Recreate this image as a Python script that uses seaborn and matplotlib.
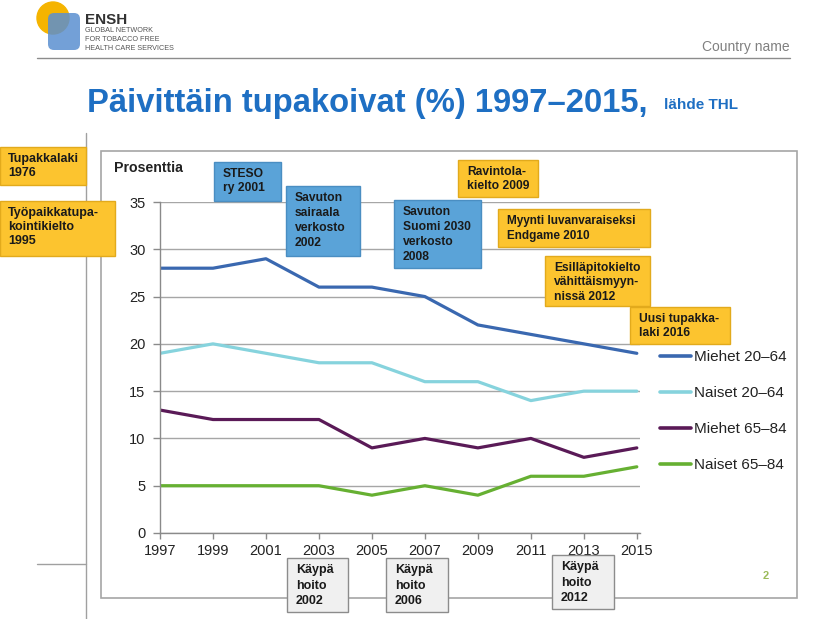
import numpy as np
import pandas as pd
import seaborn as sns
import matplotlib.pyplot as plt
from matplotlib.patches import Rectangle, Circle, FancyBboxPatch

# ---------------- data ----------------
years = [1997, 1999, 2001, 2003, 2005, 2007, 2009, 2011, 2013, 2015]
miehet_20_64 = [28, 28, 29, 26, 26, 25, 22, 21, 20, 19]
naiset_20_64 = [19, 20, 19, 18, 18, 16, 16, 14, 15, 15]
miehet_65_84 = [13, 12, 12, 12, 9, 10, 9, 10, 8, 9]
naiset_65_84 = [5, 5, 5, 5, 4, 5, 4, 6, 6, 7]
series_names = ["Miehet 20–64", "Naiset 20–64", "Miehet 65–84", "Naiset 65–84"]
series_colors = ["#3A68B0", "#86D3DD", "#5A1A57", "#66B032"]
y_ticks = [0, 5, 10, 15, 20, 25, 30, 35]

title_text = "Päivittäin tupakoivat (%) 1997–2015,"
source_text = "lähde THL"
y_unit = "Prosenttia"

W, H = 814, 619

sns.set_theme(style="white")
plt.rcParams["font.family"] = ["Liberation Sans", "DejaVu Sans"]

fig = plt.figure(figsize=(W / 100, H / 100), dpi=100)
fig.patch.set_facecolor("white")

# ---------------- main chart ----------------
ax = fig.add_axes([160 / W, 1 - 533 / H, 480 / W, 331 / H], zorder=1)
ax.patch.set_alpha(0)

df = pd.DataFrame({
    "Vuosi": years * 4,
    "Prosentti": miehet_20_64 + naiset_20_64 + miehet_65_84 + naiset_65_84,
    "Ryhmä": sum([[n] * len(years) for n in series_names], []),
})
palette = dict(zip(series_names, series_colors))
sns.lineplot(data=df, x="Vuosi", y="Prosentti", hue="Ryhmä", palette=palette,
             linewidth=2.3, ax=ax, legend=True)

ax.set_xlim(1997, 2015.12)
ax.set_ylim(0, 35)
ax.set_xticks(years)
ax.set_yticks(y_ticks)
ax.set_xlabel("")
ax.set_ylabel("")
ax.grid(axis="y", color="#A6A6A6", lw=1)
ax.grid(axis="x", visible=False)
ax.set_axisbelow(True)
for s in ["top", "right"]:
    ax.spines[s].set_visible(False)
for s in ["left", "bottom"]:
    ax.spines[s].set_color("#8A8A8A")
    ax.spines[s].set_linewidth(1)
ax.tick_params(axis="y", length=5, width=1, color="#8A8A8A", labelsize=10.5,
               labelcolor="#222222", pad=5.5, left=True)
ax.tick_params(axis="x", length=4, width=1, color="#8A8A8A", labelsize=10.5,
               labelcolor="#222222", pad=4, bottom=True)

leg = ax.get_legend()
handles = leg.legend_handles
labels = [t.get_text() for t in leg.get_texts()]
for h in handles:
    h.set_linewidth(2.6)
ax.legend(handles, labels, loc="upper left", bbox_to_anchor=(660 / W, 1 - 350 / H),
          bbox_transform=fig.transFigure, frameon=False, fontsize=11,
          handlelength=2.0, handletextpad=0.2, labelspacing=1.45,
          borderpad=0, borderaxespad=0, labelcolor="#222222")

# ---------------- overlay (slide decorations) ----------------
ov = fig.add_axes([0, 0, 1, 1], zorder=5)
ov.set_xlim(0, W)
ov.set_ylim(H, 0)
ov.axis("off")

# frames / rules
ov.add_patch(Rectangle((101, 151), 696, 447, fill=False, ec="#A6A6A6", lw=1.2, zorder=1))
ov.plot([86, 86], [133, 619], color="#A0A0A0", lw=1, zorder=1)
ov.plot([37, 86], [564, 564], color="#A0A0A0", lw=1, zorder=1)
ov.plot([37, 790], [58, 58], color="#8C8C8C", lw=1, zorder=1)

# logo
ov.add_patch(Circle((53, 18), 16, color="#F5B400", zorder=2))
ov.add_patch(FancyBboxPatch((48, 13), 32, 37, boxstyle="round,pad=0,rounding_size=6",
                            fc="#5B8FD0", ec="none", alpha=0.85, zorder=3))
ov.text(85, 24, "ENSH", fontsize=11, weight="bold", color="#333333", va="baseline")
ov.text(85, 32, "GLOBAL NETWORK", fontsize=5.2, color="#555555", va="baseline")
ov.text(85, 41, "FOR TOBACCO FREE", fontsize=5.2, color="#555555", va="baseline")
ov.text(85, 50, "HEALTH CARE SERVICES", fontsize=5.2, color="#555555", va="baseline")
ov.text(790, 47, "Country name", fontsize=10, color="#808080", ha="right", va="center")

# title
ov.text(87, 112, title_text, fontsize=23.6, weight="bold", color="#1E6FC3", va="baseline")
ov.text(664, 109, source_text, fontsize=11, weight="bold", color="#1E6FC3", va="baseline")

ov.text(114, 168, y_unit, fontsize=10.2, weight="bold", color="#222222", va="center")

BLUE = "#5AA3D8"
BLUE_E = "#4A8EC2"
GOLD = "#FCC42F"
GOLD_E = "#E2AA1C"
GREY = "#F0F0F0"
GREY_E = "#8C8C8C"


def box(x0, y0, x1, y1, fc, ec, text, tx=None, ty=None, fs=8.7, ls=1.35):
    ov.add_patch(Rectangle((x0, y0), x1 - x0, y1 - y0, fc=fc, ec=ec, lw=1, zorder=4))
    ov.text(x0 + 9 if tx is None else tx, y0 + 6 if ty is None else ty, text,
            fontsize=fs, weight="bold", color="#1A1A1A", va="top", ha="left",
            linespacing=ls, zorder=6)


box(0, 147, 86, 185, GOLD, GOLD_E, "Tupakkalaki\n1976", tx=8, fs=9, ls=1.2)
box(0, 201, 115, 256, GOLD, GOLD_E, "Työpaikkatupa-\nkointikielto\n1995", tx=8, fs=9, ls=1.2)
box(214, 162, 281, 201, BLUE, BLUE_E, "STESO\nry 2001", ls=1.2)
box(286, 186, 360, 256, BLUE, BLUE_E, "Savuton\nsairaala\nverkosto\n2002")
box(394, 200, 481, 268, BLUE, BLUE_E, "Savuton\nSuomi 2030\nverkosto\n2008")
box(458, 160, 538, 197, GOLD, GOLD_E, "Ravintola-\nkielto 2009", ls=1.25)
box(498, 209, 650, 247, GOLD, GOLD_E, "Myynti luvanvaraiseksi\nEndgame 2010", fs=8.5)
box(545, 256, 650, 306, GOLD, GOLD_E, "Esilläpitokielto\nvähittäismyyn-\nnissä 2012", ls=1.25)
box(630, 307, 730, 344, GOLD, GOLD_E, "Uusi tupakka-\nlaki 2016", ls=1.25)
box(287, 558, 348, 612, GREY, GREY_E, "Käypä\nhoito\n2002", fs=9, ls=1.4)
box(386, 558, 448, 612, GREY, GREY_E, "Käypä\nhoito\n2006", fs=9, ls=1.4)
box(552, 555, 614, 609, GREY, GREY_E, "Käypä\nhoito\n2012", fs=9, ls=1.4)

ov.text(766, 576, "2", fontsize=8, weight="bold", color="#9BBB59", ha="center", va="center")

fig.savefig("out.png", dpi=100)
